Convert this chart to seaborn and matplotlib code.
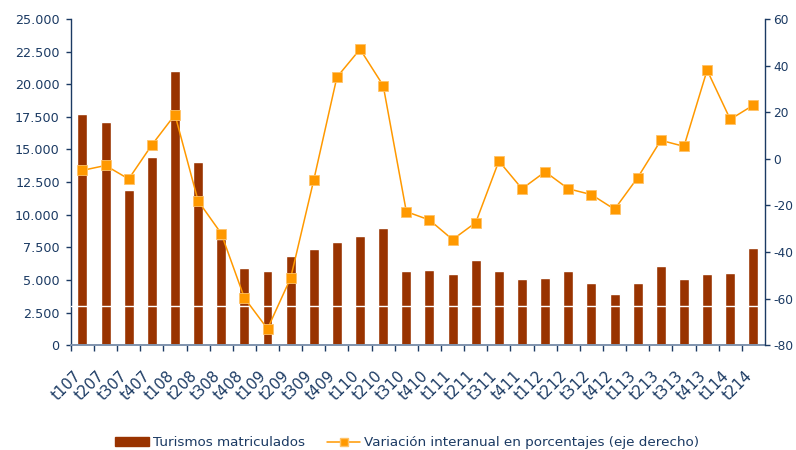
import numpy as np
import pandas as pd
import matplotlib
matplotlib.use("Agg")
import matplotlib.pyplot as plt
import matplotlib.transforms as mtransforms
import seaborn as sns
from matplotlib.patches import Patch
from matplotlib.lines import Line2D

periodos = ["t107", "t207", "t307", "t407", "t108", "t208", "t308", "t408",
            "t109", "t209", "t309", "t409", "t110", "t210", "t310", "t410",
            "t111", "t211", "t311", "t411", "t112", "t212", "t312", "t412",
            "t113", "t213", "t313", "t413", "t114", "t214"]
turismos = [17700, 17100, 11900, 14400, 21000, 14000, 8130, 5900,
            5700, 6800, 7360, 7900, 8360, 8970, 5670, 5750,
            5440, 6520, 5670, 5060, 5140, 5670, 4750, 3910,
            4750, 6060, 5060, 5440, 5520, 7440]
variacion = [-5.0, -2.9, -8.7, 5.9, 18.9, -18.1, -32.1, -59.7,
             -73.0, -51.2, -9.1, 35.0, 47.0, 31.4, -22.7, -26.3,
             -34.7, -27.4, -1.0, -12.9, -5.6, -12.9, -15.4, -21.7,
             -8.1, 7.9, 5.3, 38.0, 16.9, 23.0]

left_ticks = [0, 2500, 5000, 7500, 10000, 12500, 15000, 17500, 20000, 22500, 25000]
right_ticks = [-80, -60, -40, -20, 0, 20, 40, 60]

NAVY = "#1b3a63"
BAR = "#993300"
LINE = "#ff9900"

sns.set_theme(style="white")
plt.rcParams["font.family"] = ["DejaVu Sans"]
plt.rcParams["axes.unicode_minus"] = False

df = pd.DataFrame({"periodo": periodos, "turismos": turismos,
                   "variacion": variacion, "idx": np.arange(len(periodos))})

fig = plt.figure(figsize=(7.96, 4.5), dpi=100)
ax1 = fig.add_axes([0.089, 0.233, 0.872, 0.725])

sns.barplot(data=df, x="periodo", y="turismos", color=BAR, saturation=1,
            width=0.43, ax=ax1, zorder=2)
ax1.axhline(3000, color="white", lw=1, zorder=3)
ax1.set_ylim(0, 25000)
ax1.set_xlim(-0.5, len(periodos) - 0.5)
ax1.set_yticks(left_ticks)
ax1.set_yticklabels([f"{v:,}".replace(",", ".") for v in left_ticks])
ax1.set_xlabel("")
ax1.set_ylabel("")

ax2 = ax1.twinx()
sns.lineplot(data=df, x="idx", y="variacion", ax=ax2, color=LINE, lw=1.1,
             marker="s", markersize=6.5, markerfacecolor=LINE,
             markeredgecolor="#ffc266", markeredgewidth=0.6)
ax2.set_ylim(-80, 60)
ax2.set_yticks(right_ticks)
ax2.set_xlim(-0.5, len(periodos) - 0.5)
ax2.set_xlabel("")
ax2.set_ylabel("")

for ax in (ax1, ax2):
    ax.grid(False)
    ax.set_facecolor("none")
    for s in ax.spines.values():
        s.set_visible(False)

ax1.spines["left"].set_visible(True)
ax1.spines["left"].set_color(NAVY)
ax1.spines["left"].set_linewidth(1.0)
ax2.spines["right"].set_visible(True)
ax2.spines["right"].set_color(NAVY)
ax2.spines["right"].set_linewidth(1.0)
ax1.spines["bottom"].set_visible(True)
ax1.spines["bottom"].set_color("#7f93ad")
ax1.spines["bottom"].set_linewidth(1.4)

ax1.tick_params(axis="y", which="both", left=True, length=3.5, width=1,
                color=NAVY, labelcolor=NAVY, labelsize=9.2, pad=4.5)
ax2.tick_params(axis="y", right=True, length=3.5, width=1, color=NAVY,
                labelcolor=NAVY, labelsize=8.8, pad=2.5)

# x ticks at category boundaries, labels at centers
ax1.set_xticks(np.arange(len(periodos)) - 0.5, minor=False)
ax1.set_xticklabels([])
ax1.set_xticks(np.arange(len(periodos)), minor=True)
ax1.set_xticklabels(periodos, minor=True, rotation=45, ha="right", va="top",
                    rotation_mode="anchor")
ax1.tick_params(axis="x", which="major", bottom=True, length=4, width=1,
                color=NAVY)
ax1.tick_params(axis="x", which="minor", bottom=True, length=0,
                labelcolor=NAVY, labelsize=10.8, pad=16.5)
ax2.tick_params(axis="x", bottom=False, labelbottom=False)

shift = mtransforms.ScaledTranslation(-9 / 100, 0, fig.dpi_scale_trans)
for lab in ax1.get_xticklabels(minor=True):
    lab.set_transform(lab.get_transform() + shift)

handles = [Patch(facecolor=BAR, edgecolor=BAR),
           Line2D([0], [0], color=LINE, lw=1.1, marker="s", markersize=6,
                  markerfacecolor=LINE, markeredgecolor="#ffc266")]
labels = ["Turismos matriculados",
          "Variación interanual en porcentajes (eje derecho)"]
fig.legend(handles, labels, loc="center", bbox_to_anchor=(0.512, 0.016),
           ncol=2, frameon=False, fontsize=9.7, labelcolor=NAVY,
           handlelength=2.5, handleheight=0.7, columnspacing=1.6,
           handletextpad=0.3)

fig.savefig("out.png", dpi=100)
